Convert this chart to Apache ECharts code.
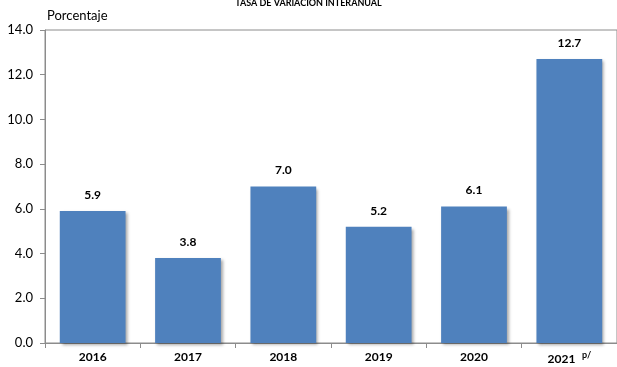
<!DOCTYPE html>
<html><head><meta charset="utf-8">
<script src="https://cdn.jsdelivr.net/npm/echarts@6/dist/echarts.min.js"></script>
<style>html,body{margin:0;padding:0;background:#fff}#c{width:617px;height:367px}</style>
</head><body><div id="c"></div>
<script>
const categories = ['2016','2017','2018','2019','2020','2021'];
const values = [5.9, 3.8, 7.0, 5.2, 6.1, 12.7];
const yTicks = ['0.0','2.0','4.0','6.0','8.0','10.0','12.0','14.0'];
const preliminaryMark = 'p/';
const title = 'TASA DE VARIACIÓN INTERANUAL';
const yName = 'Porcentaje';
const FONT = 'Lato, "Open Sans", sans-serif';
const chart = echarts.init(document.getElementById('c'));
chart.setOption({
  animation:false,
  title:{text:title,left:'center',top:-6,textStyle:{fontSize:9,fontWeight:'bold',fontFamily:FONT,color:'#000'}},
  grid:{left:45,top:30,width:577,bottom:24,show:true,borderColor:'#8c8c8c',borderWidth:1,backgroundColor:'transparent'},
  xAxis:{type:'category',data:categories,
    axisLine:{lineStyle:{color:'#8c8c8c'}},
    axisTick:{show:true,interval:0,alignWithLabel:false,length:5,lineStyle:{color:'#8c8c8c'}},
    axisLabel:{interval:0,margin:8,fontFamily:FONT,fontWeight:'bold',fontSize:12,color:'#000',
      formatter:(v,i)=> i===categories.length-1 ? '{b|'+v+'}{s|   '+preliminaryMark+'}' : '{b|'+v+'}',
      rich:{b:{fontFamily:FONT,fontWeight:'bold',fontSize:12,color:'#000'},
            s:{fontFamily:FONT,fontWeight:'bold',fontSize:9,color:'#000',verticalAlign:'bottom',padding:[0,0,8,0]}}}
  },
  yAxis:{type:'value',min:0,max:14,interval:2,name:yName,nameLocation:'end',nameGap:8,
    nameTextStyle:{fontFamily:FONT,fontSize:13,color:'#000',align:'left',padding:[0,0,0,2]},
    axisLine:{show:true,lineStyle:{color:'#8c8c8c'}},
    axisTick:{show:true,length:5,lineStyle:{color:'#8c8c8c'}},
    splitLine:{show:false},
    axisLabel:{margin:12,fontFamily:FONT,fontSize:13,color:'#000',formatter:v=>yTicks[Math.round(v/2)]}
  },
  series:[{type:'bar',data:values,barWidth:'69%',
    itemStyle:{color:'#4F81BD',shadowColor:'rgba(0,0,0,0.35)',shadowBlur:3,shadowOffsetX:2,shadowOffsetY:2},
    label:{show:true,position:'top',distance:10,fontFamily:FONT,fontWeight:'bold',fontSize:12,color:'#000',formatter:p=>p.value.toFixed(1)}
  }]
});
</script></body></html>
